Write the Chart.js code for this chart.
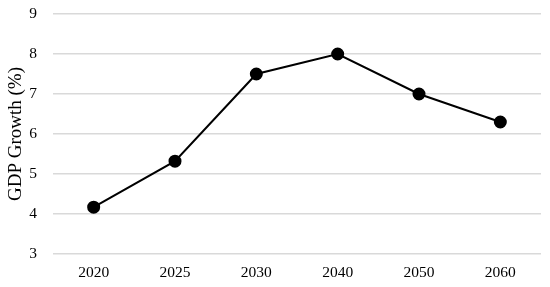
<!DOCTYPE html>
<html><head><meta charset="utf-8">
<script src="https://cdn.jsdelivr.net/npm/chart.js@4/dist/chart.umd.min.js"></script>
<style>html,body{margin:0;padding:0;background:#fff}#w{width:550px;height:287px}</style>
</head><body><div id="w"><canvas id="c"></canvas></div>
<script>
const categories = ["2020", "2025", "2030", "2040", "2050", "2060"];
const gdpGrowth = [4.17, 5.32, 7.5, 8.0, 7.0, 6.3];
const yMin = 3, yMax = 9;
const yTitle = "GDP Growth (%)";
const fontFam = "'Liberation Serif', 'DejaVu Serif', serif";

new Chart(document.getElementById('c'), {
  type: 'line',
  data: { labels: categories, datasets: [{
    data: gdpGrowth, borderColor: '#000', backgroundColor: '#000',
    borderWidth: 2, pointRadius: 5.5, pointHoverRadius: 5.5, tension: 0, fill: false
  }]},
  options: {
    responsive: true, maintainAspectRatio: false, animation: false,
    layout: { padding: { top: 14, right: 9, left: 0, bottom: 0 } },
    plugins: { legend: { display: false }, tooltip: { enabled: false } },
    scales: {
      x: {
        offset: true,
        grid: { display: false, drawTicks: false },
        border: { display: false },
        ticks: { color: '#000', font: { family: fontFam, size: 15.5 }, padding: 10 },
        afterFit: (s) => { s.height = 33; s.paddingLeft = 0; s.paddingRight = 0; }
      },
      y: {
        min: yMin, max: yMax,
        grid: { color: '#d9d9d9', lineWidth: 1.5, drawTicks: false },
        border: { display: false },
        ticks: { stepSize: 1, color: '#000', font: { family: fontFam, size: 15.5 }, padding: 16 },
        title: { display: true, text: yTitle, color: '#000', font: { family: fontFam, size: 19 }, padding: { top: 5, bottom: 0 } },
        afterFit: (s) => { s.width = 53; s.paddingTop = 0; s.paddingBottom = 0; }
      }
    }
  }
});
</script></body></html>
